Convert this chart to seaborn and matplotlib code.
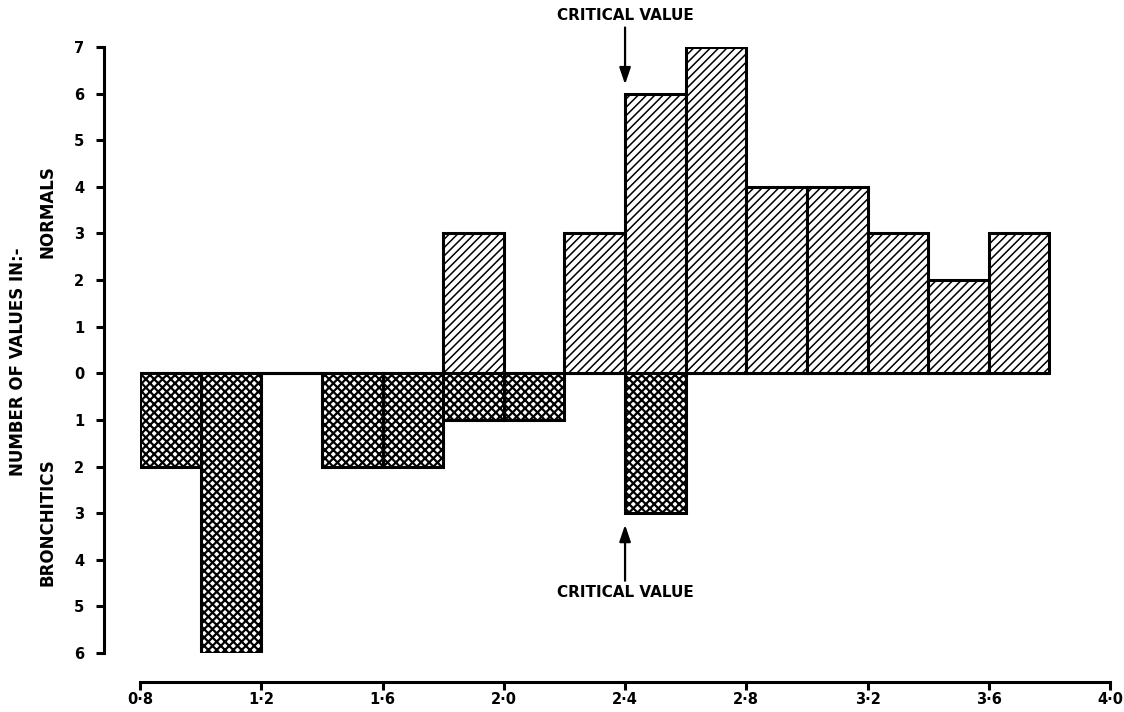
import numpy as np
import pandas as pd
import seaborn as sns
import matplotlib
matplotlib.use('Agg')
import matplotlib.pyplot as plt

# Data: 15 bins of width 0.2 from 0.8 to 3.8
bin_edges = [0.8, 1.0, 1.2, 1.4, 1.6, 1.8, 2.0, 2.2, 2.4, 2.6, 2.8, 3.0, 3.2, 3.4, 3.6, 3.8]
normals = [0, 0, 0, 0, 0, 3, 0, 3, 6, 7, 4, 4, 3, 2, 3]
bronchitics = [2, 6, 0, 2, 2, 1, 1, 0, 3, 0, 0, 0, 0, 0, 0]

y_ticks = list(range(-6, 8))
x_ticks = [0.8, 1.2, 1.6, 2.0, 2.4, 2.8, 3.2, 3.6, 4.0]
critical_value = 2.4

sns.set_style('ticks', {'axes.edgecolor': 'black', 'text.color': 'black',
                        'xtick.color': 'black', 'ytick.color': 'black',
                        'axes.labelcolor': 'black'})
plt.rcParams['font.family'] = ['DejaVu Sans']
plt.rcParams['font.weight'] = 'bold'
plt.rcParams['hatch.linewidth'] = 1.3

df = pd.DataFrame({
    'centre': [(a + b) / 2 for a, b in zip(bin_edges[:-1], bin_edges[1:])],
    'normals': normals,
    'bronchitics': [-v for v in bronchitics],
})

fig = plt.figure(figsize=(11.24, 7.12), dpi=100)
ax = fig.add_axes([0.1246, 0.0829, 0.863, 0.851])

# bronchitics hang below zero, cross hatched
sns.histplot(data=df, x='centre', weights='bronchitics', bins=bin_edges,
             color='white', alpha=1, edgecolor='black', linewidth=2.2,
             hatch='xxxx', ax=ax)
for p in ax.patches:
    if hasattr(p, 'set_hatch_linewidth'):
        p.set_hatch_linewidth(1.6)
n_cross = len(ax.patches)
# normals stand above zero, diagonal hatch
sns.histplot(data=df, x='centre', weights='normals', bins=bin_edges,
             color='white', alpha=1, edgecolor='black', linewidth=2.2,
             hatch='////', ax=ax)
for p in ax.patches[n_cross:]:
    if hasattr(p, 'set_hatch_linewidth'):
        p.set_hatch_linewidth(1.1)

ax.set_xlim(0.8, 4.0)
ax.set_ylim(-6, 7)
ax.set_xlabel('')
ax.set_ylabel('')

ax.set_yticks(y_ticks)
ax.set_yticklabels([str(abs(v)) for v in y_ticks])
ax.set_xticks(x_ticks)
ax.set_xticklabels([f'{v:.1f}'.replace('.', '\u00b7') for v in x_ticks])
ax.tick_params(axis='y', direction='out', length=6, width=2.2,
               labelsize=10.5, pad=8, colors='black')
ax.tick_params(axis='x', direction='out', length=6, width=2.2,
               labelsize=10.5, pad=1, colors='black')
for lab in ax.get_xticklabels() + ax.get_yticklabels():
    lab.set_fontweight('bold')

sns.despine(ax=ax)
ax.spines['left'].set_position(('outward', 26))
ax.spines['bottom'].set_position(('outward', 21))
ax.spines['left'].set_bounds(-6, 7)
ax.spines['bottom'].set_bounds(0.8, 4.0)
for s in ('left', 'bottom'):
    ax.spines[s].set_linewidth(2.2)
    ax.spines[s].set_color('black')

# critical value markers
arrow = dict(arrowstyle='-|>,head_length=0.5,head_width=0.17', lw=1.6,
             color='black', mutation_scale=20, shrinkA=0, shrinkB=0)
ax.annotate('', xy=(critical_value, 6.2), xytext=(critical_value, 7.42),
            arrowprops=arrow, annotation_clip=False)
ax.text(critical_value, 7.68, 'CRITICAL VALUE', ha='center', va='center',
        fontsize=11, fontweight='bold', clip_on=False)
ax.annotate('', xy=(critical_value, -3.25), xytext=(critical_value, -4.45),
            arrowprops=arrow, annotation_clip=False)
ax.text(critical_value, -4.7, 'CRITICAL VALUE', ha='center', va='center',
        fontsize=11, fontweight='bold', clip_on=False)

# side labels
fig.text(18 / 1124, 1 - 362 / 712, 'NUMBER OF VALUES IN:-', rotation=90,
         ha='center', va='center', fontsize=12, fontweight='bold')
fig.text(48 / 1124, 1 - 212 / 712, 'NORMALS', rotation=90,
         ha='center', va='center', fontsize=12, fontweight='bold')
fig.text(48 / 1124, 1 - 522 / 712, 'BRONCHITICS', rotation=90,
         ha='center', va='center', fontsize=12, fontweight='bold')

fig.savefig('out.png', dpi=100)
